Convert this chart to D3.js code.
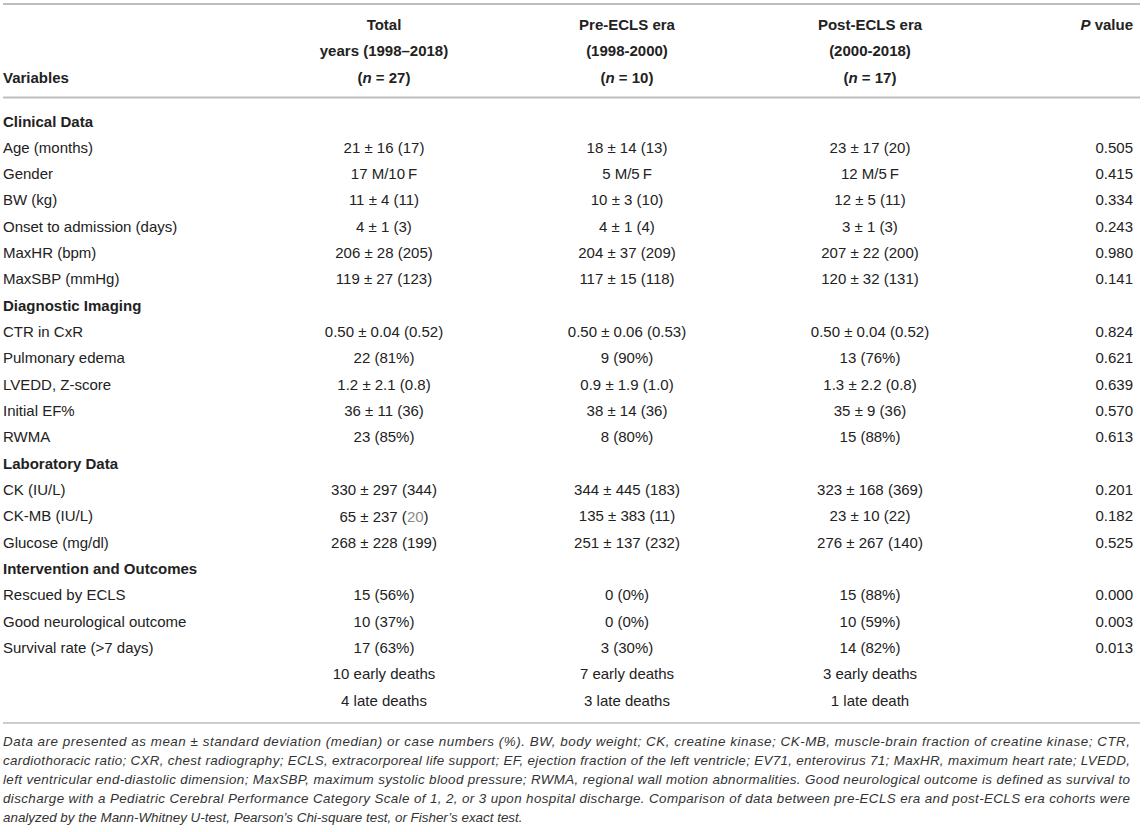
<!DOCTYPE html>
<html>
<head>
    <meta charset='utf-8'>
    <title>ECLS era comparison</title>
    <style>
        body { margin: 0; background: #fff; }
        svg text { font-family: "Liberation Sans", Arial, Helvetica, sans-serif; fill: #222; }
    </style>
</head>
<body>
<svg id="table"></svg>
<script src="https://d3js.org/d3.v7.min.js"></script>
<script>
    const width = 1145
    const height = 832

    const sections = ["Clinical Data", "Diagnostic Imaging", "Laboratory Data", "Intervention and Outcomes"]

    const rowLabels = [
        "Clinical Data", "Age (months)", "Gender", "BW (kg)", "Onset to admission (days)", "MaxHR (bpm)", "MaxSBP (mmHg)",
        "Diagnostic Imaging", "CTR in CxR", "Pulmonary edema", "LVEDD, Z-score", "Initial EF%", "RWMA",
        "Laboratory Data", "CK (IU/L)", "CK-MB (IU/L)", "Glucose (mg/dl)",
        "Intervention and Outcomes", "Rescued by ECLS", "Good neurological outcome", "Survival rate (>7 days)", "", ""
    ]

    const totalValues = [
        "", "21 ± 16 (17)", "17 M/10\u2009F", "11 ± 4 (11)", "4 ± 1 (3)", "206 ± 28 (205)", "119 ± 27 (123)",
        "", "0.50 ± 0.04 (0.52)", "22 (81%)", "1.2 ± 2.1 (0.8)", "36 ± 11 (36)", "23 (85%)",
        "", "330 ± 297 (344)", "65 ± 237 (20)", "268 ± 228 (199)",
        "", "15 (56%)", "10 (37%)", "17 (63%)", "10 early deaths", "4 late deaths"
    ]

    const preValues = [
        "", "18 ± 14 (13)", "5 M/5\u2009F", "10 ± 3 (10)", "4 ± 1 (4)", "204 ± 37 (209)", "117 ± 15 (118)",
        "", "0.50 ± 0.06 (0.53)", "9 (90%)", "0.9 ± 1.9 (1.0)", "38 ± 14 (36)", "8 (80%)",
        "", "344 ± 445 (183)", "135 ± 383 (11)", "251 ± 137 (232)",
        "", "0 (0%)", "0 (0%)", "3 (30%)", "7 early deaths", "3 late deaths"
    ]

    const postValues = [
        "", "23 ± 17 (20)", "12 M/5\u2009F", "12 ± 5 (11)", "3 ± 1 (3)", "207 ± 22 (200)", "120 ± 32 (131)",
        "", "0.50 ± 0.04 (0.52)", "13 (76%)", "1.3 ± 2.2 (0.8)", "35 ± 9 (36)", "15 (88%)",
        "", "323 ± 168 (369)", "23 ± 10 (22)", "276 ± 267 (140)",
        "", "15 (88%)", "10 (59%)", "14 (82%)", "3 early deaths", "1 late death"
    ]

    const pValues = [
        "", "0.505", "0.415", "0.334", "0.243", "0.980", "0.141",
        "", "0.824", "0.621", "0.639", "0.570", "0.613",
        "", "0.201", "0.182", "0.525",
        "", "0.000", "0.003", "0.013", "", ""
    ]

    const columns = ["total", "pre", "post"]
    const headerTitles = ["Total", "Pre-ECLS era", "Post-ECLS era"]
    const headerYears = ["years (1998–2018)", "(1998-2000)", "(2000-2018)"]
    const headerN = ["27", "10", "17"]

    const footnote = [
        "Data are presented as mean ± standard deviation (median) or case numbers (%). BW, body weight; CK, creatine kinase; CK-MB, muscle-brain fraction of creatine kinase; CTR,",
        "cardiothoracic ratio; CXR, chest radiography; ECLS, extracorporeal life support; EF, ejection fraction of the left ventricle; EV71, enterovirus 71; MaxHR, maximum heart rate; LVEDD,",
        "left ventricular end-diastolic dimension; MaxSBP, maximum systolic blood pressure; RWMA, regional wall motion abnormalities. Good neurological outcome is defined as survival to",
        "discharge with a Pediatric Cerebral Performance Category Scale of 1, 2, or 3 upon hospital discharge. Comparison of data between pre-ECLS era and post-ECLS era cohorts were",
        "analyzed by the Mann-Whitney U-test, Pearson’s Chi-square test, or Fisher’s exact test."
    ]

    const left = 3
    const right = 1140
    const pRight = 1133

    const svg = d3.select("#table")
        .attr("width", width)
        .attr("height", height)
        .attr("viewBox", [0, 0, width, height])

    const x = d3.scalePoint()
        .domain(columns)
        .range([384, 870])

    const y = d3.scalePoint()
        .domain(d3.range(rowLabels.length))
        .range([121, 700])

    const headerY = d3.scalePoint()
        .domain([0, 1, 2])
        .range([24, 77])

    const footY = d3.scalePoint()
        .domain(d3.range(footnote.length))
        .range([741, 817])

    // rules
    svg.append("g")
        .attr("stroke", "#bdbdbd")
        .selectAll("line")
        .data([{y: 4, w: 2}, {y: 97.5, w: 2}, {y: 723, w: 1.5}])
        .join("line")
        .attr("x1", left)
        .attr("x2", right)
        .attr("y1", d => d.y)
        .attr("y2", d => d.y)
        .attr("stroke-width", d => d.w)

    // header
    const header = svg.append("g")
        .attr("font-size", 15)
        .attr("font-weight", "bold")
        .attr("dominant-baseline", "central")

    header.append("text")
        .attr("x", left)
        .attr("y", headerY(2))
        .text("Variables")

    header.selectAll("text.title")
        .data(columns)
        .join("text")
        .attr("class", "title")
        .attr("text-anchor", "middle")
        .attr("x", d => x(d))
        .attr("y", headerY(0))
        .text((d, i) => headerTitles[i])

    header.selectAll("text.years")
        .data(columns)
        .join("text")
        .attr("class", "years")
        .attr("text-anchor", "middle")
        .attr("x", d => x(d))
        .attr("y", headerY(1))
        .text((d, i) => headerYears[i])

    header.selectAll("text.n")
        .data(columns)
        .join("text")
        .attr("class", "n")
        .attr("text-anchor", "middle")
        .attr("x", d => x(d))
        .attr("y", headerY(2))
        .each(function (d, i) {
            const t = d3.select(this)
            t.append("tspan").text("(")
            t.append("tspan").attr("font-style", "italic").text("n")
            t.append("tspan").text(" = " + headerN[i] + ")")
        })

    const pHead = header.append("text")
        .attr("text-anchor", "end")
        .attr("x", pRight)
        .attr("y", headerY(0))
    pHead.append("tspan").attr("font-style", "italic").text("P")
    pHead.append("tspan").text(" value")

    // body
    const body = svg.append("g")
        .attr("font-size", 15)
        .attr("dominant-baseline", "central")

    body.selectAll("text.label")
        .data(rowLabels)
        .join("text")
        .attr("class", "label")
        .attr("x", left)
        .attr("y", (d, i) => y(i))
        .attr("font-weight", d => sections.includes(d) ? "bold" : null)
        .text(d => d)

    const columnValues = [totalValues, preValues, postValues]
    columns.forEach((col, c) => {
        body.append("g")
            .attr("text-anchor", "middle")
            .selectAll("text")
            .data(columnValues[c])
            .join("text")
            .attr("x", x(col))
            .attr("y", (d, i) => y(i))
            .each(function (d, i) {
                const t = d3.select(this)
                // the CK-MB median in the total column is printed grey
                if (col === "total" && rowLabels[i] === "CK-MB (IU/L)") {
                    const m = d.match(/^(.*\()(\d+)(\))$/)
                    t.append("tspan").text(m[1])
                    t.append("tspan").style("fill", "#8a8a8a").text(m[2])
                    t.append("tspan").text(m[3])
                } else {
                    t.text(d)
                }
            })
    })

    body.append("g")
        .attr("text-anchor", "end")
        .selectAll("text")
        .data(pValues)
        .join("text")
        .attr("x", pRight)
        .attr("y", (d, i) => y(i))
        .text(d => d)

    // footnote, justified except last line
    svg.append("g")
        .attr("font-size", 13.4)
        .attr("font-style", "italic")
        .attr("dominant-baseline", "central")
        .selectAll("text")
        .data(footnote)
        .join("text")
        .attr("x", left)
        .attr("y", (d, i) => footY(i))
        .attr("textLength", (d, i) => i < footnote.length - 1 ? right - 10 - left : null)
        .attr("lengthAdjust", "spacing")
        .style("fill", "#333")
        .text(d => d)
</script>
</body>
</html>
